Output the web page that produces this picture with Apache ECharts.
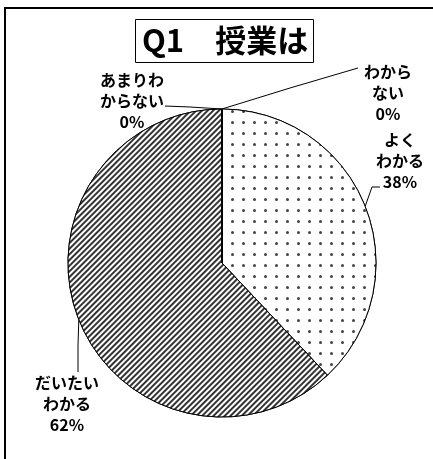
<!DOCTYPE html>
<html lang="ja">
<head>
  <meta charset="utf-8">
  <style>
    html, body { margin: 0; padding: 0; width: 100%; height: 100%; overflow: hidden; background: #fff; }
  </style>
  <script src="https://cdn.jsdelivr.net/npm/echarts@6/dist/echarts.min.js"></script>
</head>
<body>
  <div id="container" style="width: 433px; height: 459px;"></div>
  <script>
    // data
    var categories = ['よく\nわかる', 'だいたい\nわかる', 'あまりわ\nからない', 'わから\nない'];
    var values = [38, 62, 0, 0];
    var titleText = 'Q1　授業は';

    // where each label block sits (center) and how its leader bends
    var labelPos = [
      { x: 400, y: 161, bend: [372, 187], end: [380, 187] },
      { x: 67, y: 404, bend: [78, 345], end: [78, 372] },
      { x: 132, y: 101, bend: [190, 107], end: [165, 106] },
      { x: 388, y: 93, bend: [290, 88], end: [358, 68] }
    ];

    var dots = {
      symbol: 'circle',
      symbolSize: 1,
      color: '#444',
      backgroundColor: '#fff',
      dashArrayX: [3, 7.5],
      dashArrayY: [3, 7.5]
    };
    var stripes = {
      symbol: 'rect',
      symbolSize: 1,
      color: '#333',
      backgroundColor: '#fff',
      dashArrayX: [1, 0],
      dashArrayY: [1.8, 1.8],
      rotation: -Math.PI / 4
    };
    var decals = [dots, stripes, stripes, dots];

    var dom = document.getElementById('container');
    var myChart = echarts.init(dom, null, { renderer: 'canvas' });
    var font = '"Noto Sans CJK JP", "Noto Sans", sans-serif';

    var seriesData = categories.map(function (name, i) {
      return {
        name: name,
        value: values[i],
        itemStyle: { color: '#fff', decal: decals[i] }
      };
    });

    var option = {
      animation: false,
      title: {
        text: titleText,
        left: 135,
        top: 19,
        padding: [6, 6, 7, 7],
        borderColor: '#000',
        borderWidth: 1,
        textStyle: { fontFamily: font, fontSize: 31, fontWeight: 'bold', color: '#000' }
      },
      graphic: [{
        type: 'rect',
        shape: { x: 5, y: 8, width: 600, height: 600 },
        style: { fill: 'none', stroke: '#000', lineWidth: 2 },
        silent: true
      }],
      series: [{
        type: 'pie',
        center: [222, 263],
        radius: 154,
        startAngle: 90,
        clockwise: true,
        stillShowZeroSum: true,
        avoidLabelOverlap: false,
        itemStyle: { borderColor: '#000', borderWidth: 1 },
        label: {
          show: true,
          fontFamily: font,
          fontSize: 16,
          fontWeight: 'bold',
          color: '#000',
          lineHeight: 21,
          align: 'center',
          formatter: function (p) { return p.name + '\n' + p.value + '%'; }
        },
        labelLine: { show: true, lineStyle: { color: '#000', width: 1 } },
        labelLayout: function (params) {
          var lp = labelPos[params.dataIndex];
          var start = params.labelLinePoints ? params.labelLinePoints[0] : lp.bend;
          return {
            x: lp.x,
            y: lp.y,
            align: 'center',
            verticalAlign: 'middle',
            labelLinePoints: [start, lp.bend, lp.end]
          };
        },
        data: seriesData
      }]
    };

    myChart.setOption(option);
  </script>
</body>
</html>
